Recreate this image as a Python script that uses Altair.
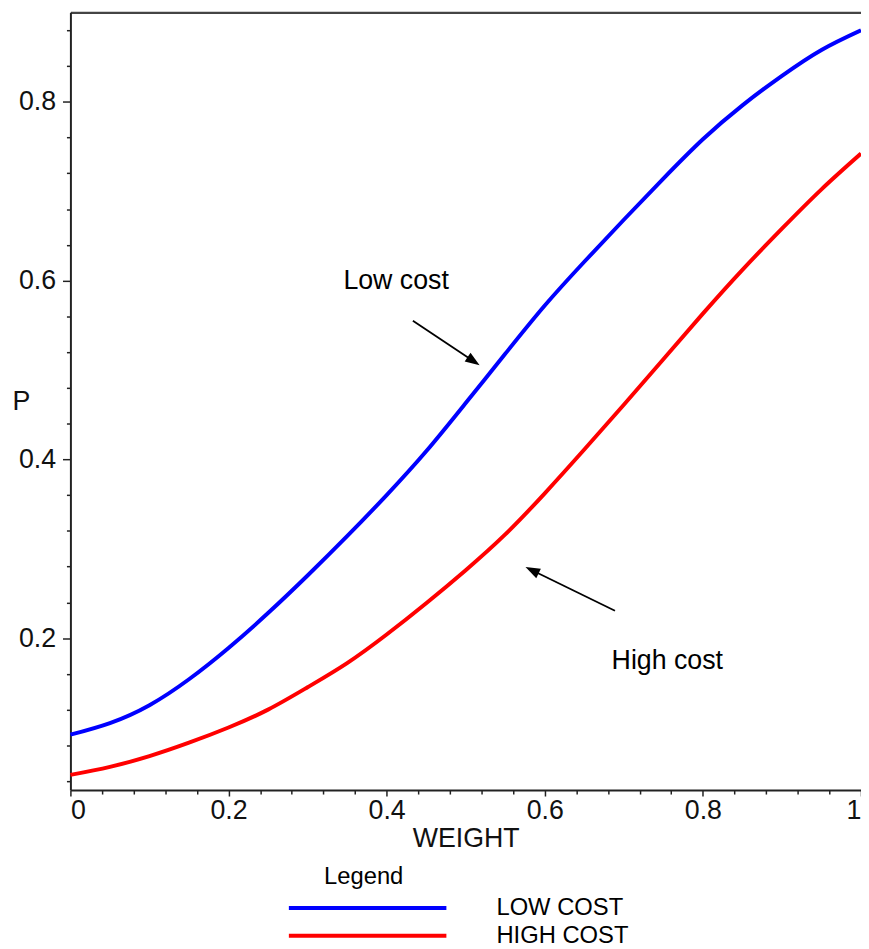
import altair as alt
import pandas as pd

FONT = "Liberation Sans"

# ---- data ----
series_names = ["LOW COST", "HIGH COST"]
series_colors = ["#0000ff", "#ff0000"]

weight = [0.0, 0.05, 0.10, 0.15, 0.20, 0.25, 0.30, 0.35, 0.40, 0.45, 0.50,
          0.55, 0.60, 0.65, 0.70, 0.75, 0.80, 0.85, 0.90, 0.95, 1.0]
low_p = [0.092, 0.105, 0.125, 0.154, 0.189, 0.228, 0.270, 0.314, 0.360, 0.409, 0.463,
         0.518, 0.572, 0.621, 0.668, 0.714, 0.758, 0.796, 0.829, 0.858, 0.880]
high_p = [0.047, 0.056, 0.068, 0.083, 0.100, 0.120, 0.145, 0.172, 0.204, 0.239, 0.276,
          0.316, 0.362, 0.411, 0.461, 0.512, 0.563, 0.612, 0.658, 0.702, 0.742]

x_major = [0, 0.2, 0.4, 0.6, 0.8, 1.0]
x_minor = [0.04, 0.08, 0.12, 0.16, 0.24, 0.28, 0.32, 0.36, 0.44, 0.48, 0.52, 0.56,
           0.64, 0.68, 0.72, 0.76, 0.84, 0.88, 0.92, 0.96]
y_major = [0.2, 0.4, 0.6, 0.8]
y_minor = [0.04, 0.08, 0.12, 0.16, 0.24, 0.28, 0.32, 0.36, 0.44, 0.48, 0.52, 0.56,
           0.64, 0.68, 0.72, 0.76, 0.84, 0.88]

# annotations
ann_text = ["Low cost", "High cost"]
ann_x = [0.412, 0.755]
ann_y = [0.591, 0.165]

arrow_id = ["low", "low", "high", "high"]
arrow_x = [0.4332, 0.5100, 0.6888, 0.5839]
arrow_y = [0.5551, 0.5097, 0.2306, 0.2759]

head_x = [0.5100, 0.5839]
head_y = [0.5097, 0.2759]
head_angle = [124, 296]

# ---- tables ----
df = pd.DataFrame(
    {"WEIGHT": weight + weight,
     "P": low_p + high_p,
     "series": [series_names[0]] * len(weight) + [series_names[1]] * len(weight)}
)
df_text = pd.DataFrame({"label": ann_text, "x": ann_x, "y": ann_y})
df_arrow = pd.DataFrame({"id": arrow_id, "x": arrow_x, "y": arrow_y})
df_head = pd.DataFrame({"x": head_x, "y": head_y, "ang": head_angle})

x_scale = alt.Scale(domain=[0, 1], nice=False, zero=False)
y_scale = alt.Scale(domain=[0.03, 0.9], nice=False, zero=False)

lines = alt.Chart(df).mark_line(strokeWidth=4, interpolate="natural").encode(
    x=alt.X("WEIGHT:Q", scale=x_scale,
            axis=alt.Axis(orient="bottom", values=x_major, format="~g",
                          tickSize=6, labelPadding=2, title="WEIGHT", titlePadding=2,
                          labelAlign={"condition": [
                              {"test": "datum.value == 0", "value": "left"},
                              {"test": "datum.value == 1", "value": "right"}],
                              "value": "center"})),
    y=alt.Y("P:Q", scale=y_scale,
            axis=alt.Axis(orient="left", values=y_major, format="~g",
                          tickSize=8, labelPadding=7, title="P", titleAngle=0,
                          titleX=-50, titleY=393, titleAlign="center",
                          titleBaseline="middle")),
    color=alt.Color("series:N",
                    scale=alt.Scale(domain=series_names, range=series_colors),
                    legend=alt.Legend(title="Legend", orient="none", legendX=256,
                                      legendY=861, direction="vertical",
                                      symbolType="M-79.5,0L79.5,0", symbolSize=4,
                                      symbolStrokeWidth=4, symbolOffset=-8,
                                      labelOffset=118,
                                      labelFont=FONT, labelFontSize=24,
                                      labelColor="black", labelLimit=400,
                                      titleFont=FONT, titleFontSize=24,
                                      titleFontWeight="normal", titleColor="black",
                                      titleAnchor="start", titleAlign="center",
                                      titlePadding=7, rowPadding=4, padding=0)),
)

minor = alt.Chart(df).mark_line(opacity=0).encode(
    x=alt.X("WEIGHT:Q", scale=x_scale,
            axis=alt.Axis(orient="bottom", values=x_minor, labels=False,
                          domain=False, tickSize=4, title=None)),
    y=alt.Y("P:Q", scale=y_scale,
            axis=alt.Axis(orient="left", values=y_minor, labels=False,
                          domain=False, tickSize=4, title=None)),
    detail="series:N",
)

frame = alt.Chart(df).mark_line(opacity=0).encode(
    x=alt.X("WEIGHT:Q", scale=x_scale,
            axis=alt.Axis(orient="top", labels=False, ticks=False,
                          domainColor="#444444", domainWidth=2.5, title=None)),
    y=alt.Y("P:Q", scale=y_scale, axis=None),
    detail="series:N",
)

texts = alt.Chart(df_text).mark_text(
    font=FONT, fontSize=27, align="center", baseline="alphabetic", color="black"
).encode(
    x=alt.X("x:Q", scale=x_scale, axis=None),
    y=alt.Y("y:Q", scale=y_scale, axis=None),
    text="label:N",
)

arrows = alt.Chart(df_arrow).mark_line(color="black", strokeWidth=1.8).encode(
    x=alt.X("x:Q", scale=x_scale, axis=None),
    y=alt.Y("y:Q", scale=y_scale, axis=None),
    detail="id:N",
)

heads = alt.Chart(df_head).mark_point(
    shape="M0,-1L0.72,1L-0.72,1Z", filled=True, color="black", size=215, opacity=1,
    strokeWidth=0
).encode(
    x=alt.X("x:Q", scale=x_scale, axis=None),
    y=alt.Y("y:Q", scale=y_scale, axis=None),
    angle=alt.Angle("ang:Q", scale=None),
)

chart = alt.layer(lines, minor, frame, texts, arrows, heads).resolve_axis(
    x="independent", y="independent"
).properties(
    width=798, height=785,
    autosize=alt.AutoSizeParams(type="none"),
    padding={"left": 63, "top": 0, "right": 0, "bottom": 156},
    background="white",
).configure_axis(
    labelFont=FONT, labelFontSize=27, labelColor="#111111",
    titleFont=FONT, titleFontSize=27, titleFontWeight="normal", titleColor="#111111",
    domainColor="#222222", domainWidth=2, tickColor="#222222", tickWidth=1.5,
    grid=False,
).configure_view(strokeWidth=0)

chart.save("out.html", embed_options={"renderer": "svg", "actions": False})
